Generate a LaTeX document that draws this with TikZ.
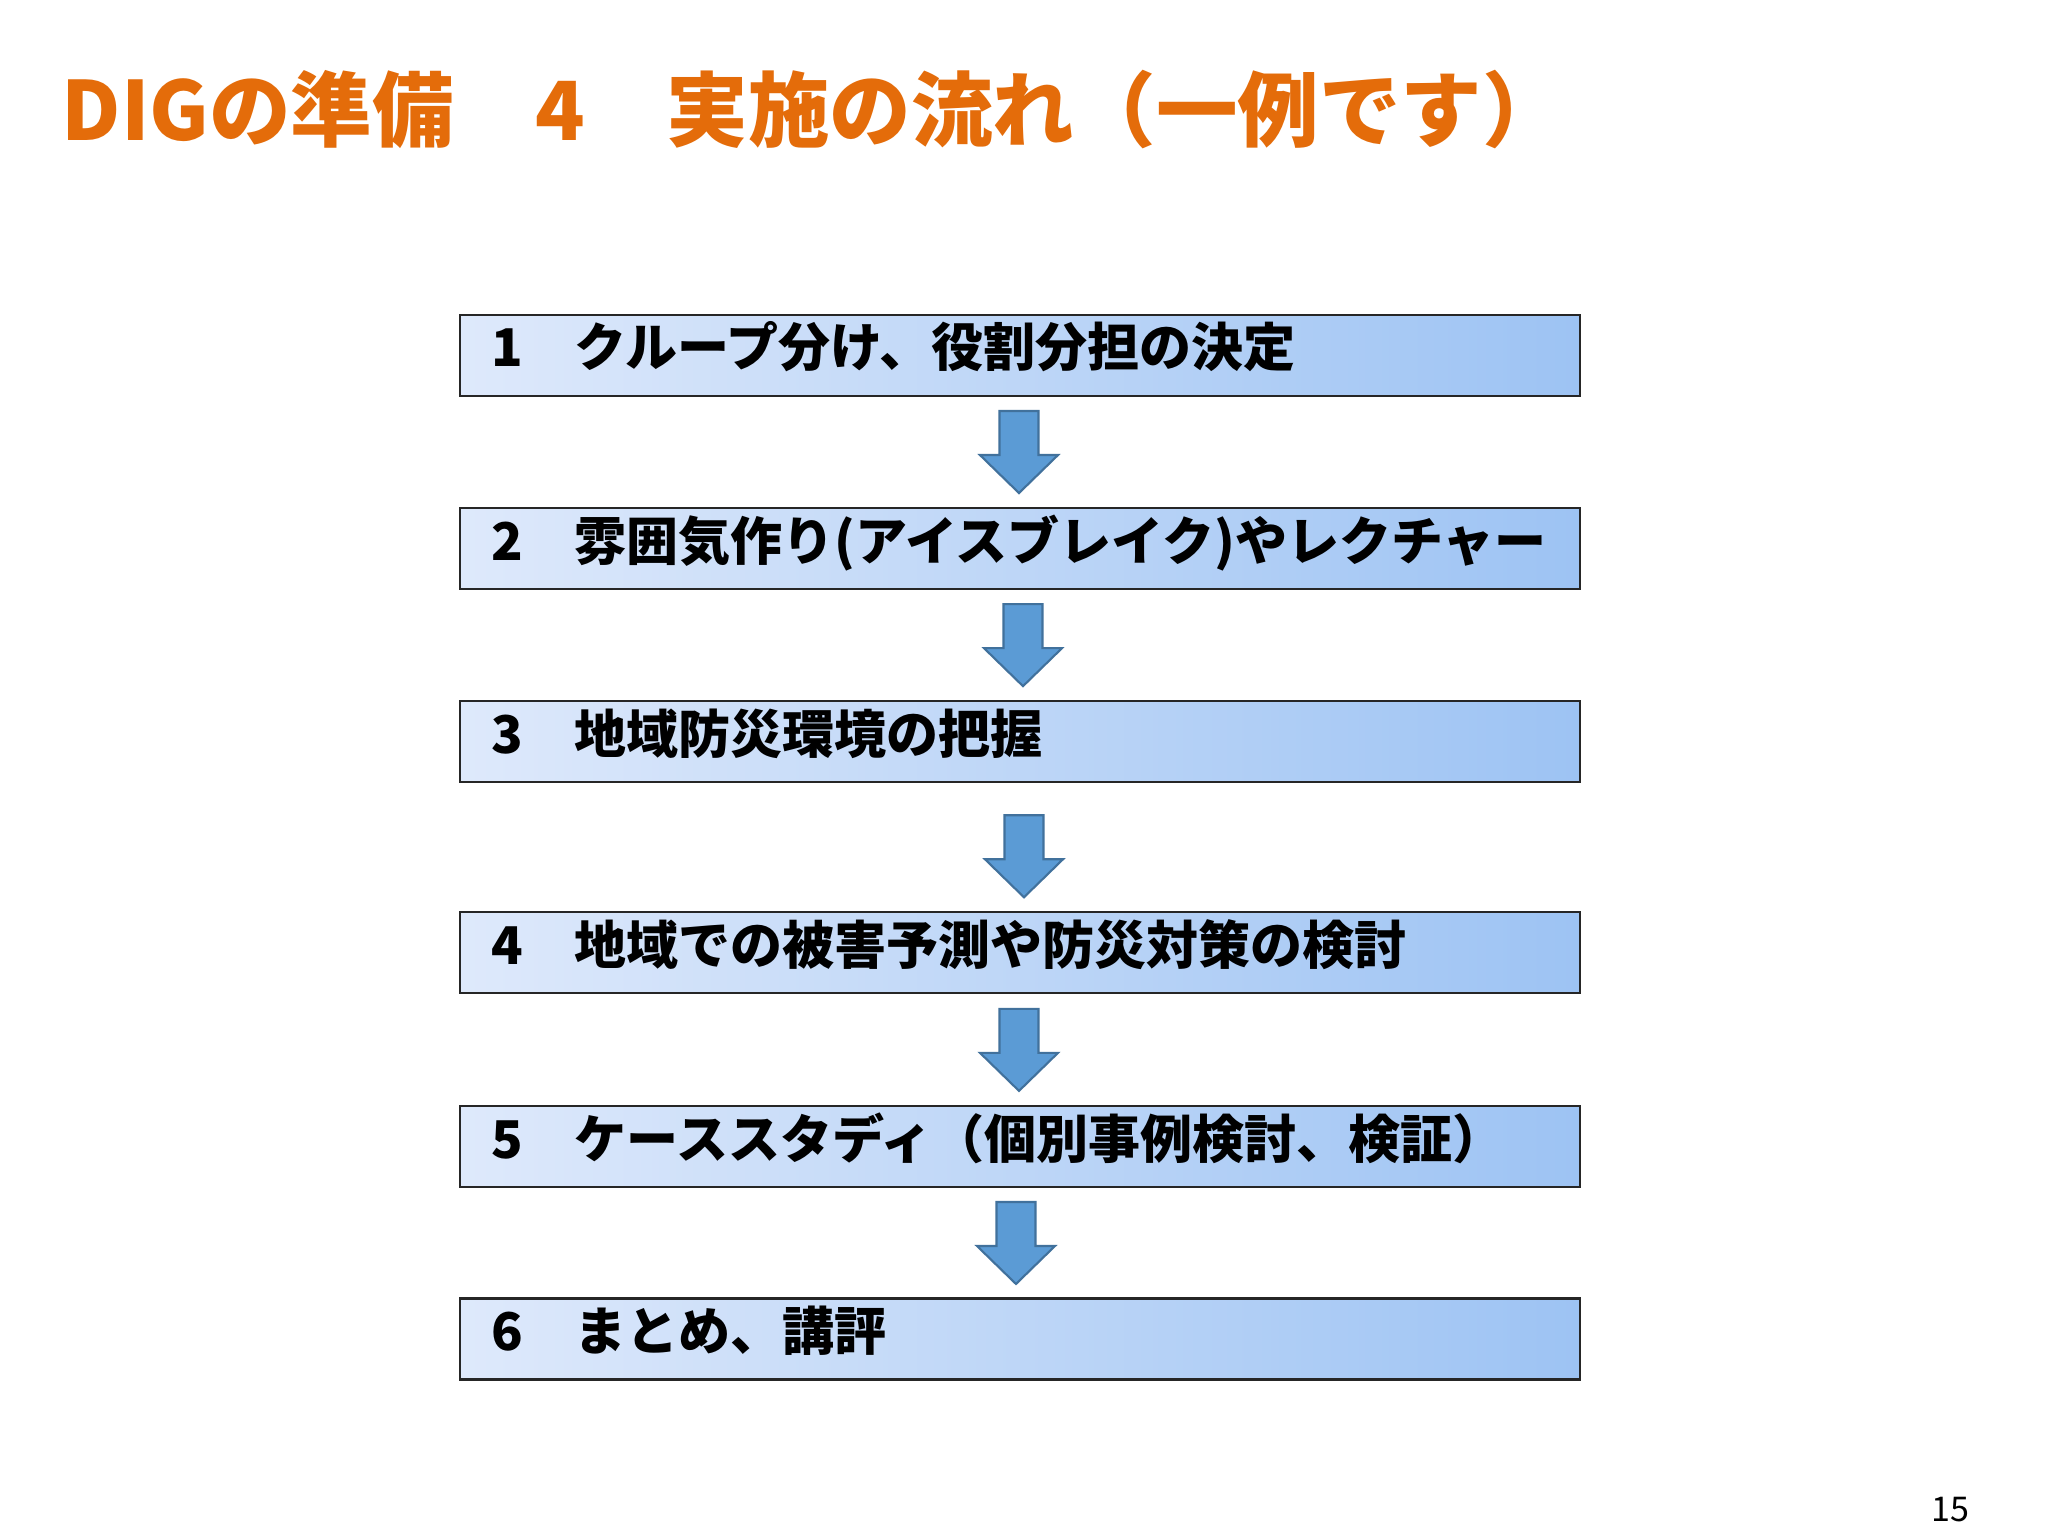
\documentclass[tikz,border=0pt]{standalone}
\usepackage{fontspec}
\setmainfont{Noto Sans CJK JP}
\usepackage{tikz}
\usetikzlibrary{positioning, calc}
\usepackage{xcolor}

\definecolor{titleorange}{RGB}{228,108,10}
\definecolor{boxleft}{RGB}{222,233,251}
\definecolor{boxright}{RGB}{157,195,243}
\definecolor{arrowblue}{RGB}{91,155,213}
\definecolor{arrowedge}{RGB}{65,113,156}

\begin{document}
\begin{tikzpicture}[
    node distance=1.10cm,
    stepbox/.style={rectangle, draw=black!85, line width=0.6pt, left color=boxleft, right color=boxright, minimum width=11.2cm, minimum height=0.81cm, text width=10.58cm, text height=0.35cm, text depth=0.12cm, align=left, inner xsep=0.31cm, inner ysep=0pt, font=\bfseries\fontsize{14.8}{17}\selectfont},
    downarrow/.style={fill=arrowblue, draw=arrowedge, line width=0.6pt, line join=miter}
]
    % Page
    \fill[white] (0,0) rectangle (20.48,-15.36);
    \useasboundingbox (0,0) rectangle (20.48,-15.36);

    % Title
    \node[anchor=base west, inner sep=0pt, text=titleorange, font=\bfseries\fontsize{23.2}{26}\selectfont] (title) at (0.61,-1.41) {DIGの準備　4　実施の流れ（一例です）};

    % Nodes
    \node[stepbox] (s1) at (10.20,-3.555) {1　クループ分け、役割分担の決定};
    \node[stepbox, below=of s1] (s2) {2　雰囲気作り(アイスブレイク)やレクチャー};
    \node[stepbox, below=of s2] (s3) {3　地域防災環境の把握};
    \node[stepbox, below=1.28cm of s3] (s4) {4　地域での被害予測や防災対策の検討};
    \node[stepbox, below=1.11cm of s4] (s5) {5　ケーススタディ（個別事例検討、検証）};
    \node[stepbox, below=1.09cm of s5] (s6) {6　まとめ、講評};

    % Arrows
    \foreach \up/\dn/\dx/\dy in {s1/s2/-0.01/0, s2/s3/0.03/0, s3/s4/0.04/-0.09, s4/s5/-0.01/0, s5/s6/-0.04/0} {
        \coordinate (arr-\up) at ($(\up.south)!0.5!(\dn.north)+(\dx,\dy)$);
        \draw[downarrow] ($(arr-\up)+(-0.195,0.41)$) -- ($(arr-\up)+(0.195,0.41)$)
            -- ($(arr-\up)+(0.195,-0.03)$) -- ($(arr-\up)+(0.39,-0.03)$)
            -- ($(arr-\up)+(0,-0.41)$) -- ($(arr-\up)+(-0.39,-0.03)$)
            -- ($(arr-\up)+(-0.195,-0.03)$) -- cycle;
    }

    % Page number
    \node[anchor=base, inner sep=0pt, font=\fontsize{9.7}{12}\selectfont] (pageno) at (19.50,-15.21) {15};
\end{tikzpicture}
\end{document}
